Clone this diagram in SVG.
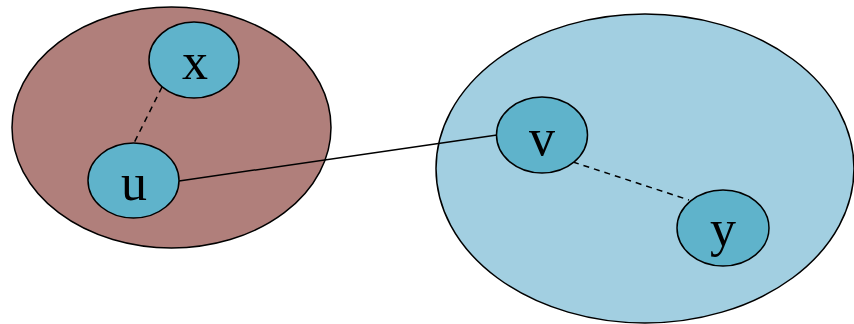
<svg xmlns="http://www.w3.org/2000/svg" width="854" height="324" viewBox="0 0 854 324">
<style>
.cl{stroke:#000;stroke-width:1.5}
.n{fill:#5fb3cb;stroke:#000;stroke-width:1.5}
.t{font-family:"Liberation Serif","Times New Roman",serif;font-size:52px;text-anchor:middle;fill:#000}
.e{stroke:#000;stroke-width:1.5;fill:none}
.d{stroke-dasharray:6,5}
</style>
<rect width="854" height="324" fill="#fff"/>
<g id="cluster-left"><ellipse class="cl" cx="171.5" cy="127.5" rx="159.5" ry="120.5" fill="#b07f7b"/></g>
<g id="cluster-right"><ellipse class="cl" cx="645" cy="168.5" rx="209" ry="154.5" fill="#a2cfe1"/></g>
<g id="connectors">
<line class="e d" x1="162" y1="87" x2="134" y2="143"/>
<line class="e" x1="179" y1="181" x2="497" y2="135"/>
<line class="e d" x1="573" y1="162" x2="689" y2="200"/>
</g>
<g id="node-x"><ellipse class="n" cx="194" cy="60" rx="45" ry="38"/><text class="t" x="195" y="79">x</text></g>
<g id="node-u"><ellipse class="n" cx="133.5" cy="180.5" rx="45.5" ry="37.5"/><text class="t" x="134" y="200">u</text></g>
<g id="node-v"><ellipse class="n" cx="542" cy="135" rx="45.5" ry="38"/><text class="t" x="542" y="155">v</text></g>
<g id="node-y"><ellipse class="n" cx="723" cy="228" rx="46" ry="38"/><text class="t" x="723" y="246">y</text></g>
</svg>
